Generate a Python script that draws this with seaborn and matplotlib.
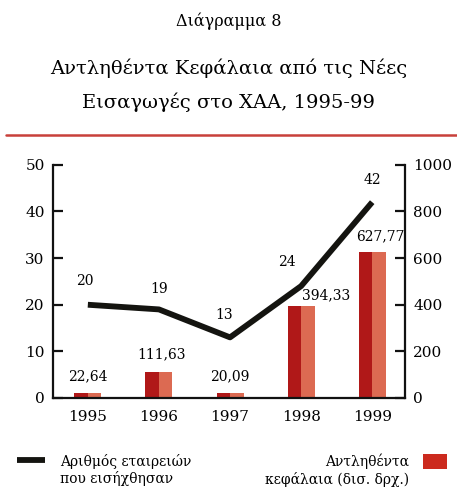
import matplotlib
matplotlib.use("Agg")
import matplotlib.pyplot as plt
from matplotlib.patches import Rectangle
from matplotlib.lines import Line2D
import seaborn as sns
import pandas as pd

# Data
years = ["1995", "1996", "1997", "1998", "1999"]
companies = [20, 19, 13, 24, 42]              # number of listed companies (left axis)
capital = [22.64, 111.63, 20.09, 394.33, 627.77]  # capital raised, bn drachmas (right axis)
capital_labels = ["22,64", "111,63", "20,09", "394,33", "627,77"]

title_lines = ["Διάγραμμα 8",
               "Αντληθέντα Κεφάλαια από τις Νέες",
               "Εισαγωγές στο ΧΑΑ, 1995-99"]
legend_line = "Αριθμός εταιρειών\nπου εισήχθησαν"
legend_bar = "Αντληθέντα\nκεφάλαια (δισ. δρχ.)"

sns.set_theme(style="white")
plt.rcParams["font.family"] = ["DejaVu Serif"]
plt.rcParams["text.color"] = "black"
plt.rcParams["xtick.color"] = "black"
plt.rcParams["ytick.color"] = "black"

df = pd.DataFrame({"year": years, "companies": companies, "capital": capital})

fig = plt.figure(figsize=(4.57, 4.96), dpi=100)
ax = fig.add_axes([0.116, 0.1976, 0.770, 0.470])
ax2 = ax.twinx()

BAR_LIGHT = "#dc6a52"
BAR_DARK = "#b01818"
LINE_COL = "#141410"

# bars on the right axis
sns.barplot(data=df, x="year", y="capital", ax=ax2, color=BAR_LIGHT,
            width=0.38, saturation=1, edgecolor="none")
for p in list(ax2.patches):
    ax2.add_patch(Rectangle((p.get_x(), p.get_y()), p.get_width() / 2, p.get_height(),
                            facecolor=BAR_DARK, edgecolor="none", zorder=p.get_zorder() + 0.1))

# line on the left axis
sns.lineplot(data=df, x="year", y="companies", ax=ax, color=LINE_COL,
             linewidth=4.2, sort=False, solid_capstyle="butt")
ax.set_zorder(ax2.get_zorder() + 1)
ax.patch.set_visible(False)

ax.set_ylim(0, 50)
ax2.set_ylim(0, 1000)
ax.set_xlim(-0.49, 4.46)
ax.set_yticks([0, 10, 20, 30, 40, 50])
ax2.set_yticks([0, 200, 400, 600, 800, 1000])
ax.set_xlabel("")
ax.set_ylabel("")
ax2.set_xlabel("")
ax2.set_ylabel("")

for a in (ax, ax2):
    a.spines["top"].set_visible(False)
    for s in ("left", "right", "bottom"):
        a.spines[s].set_color("#111111")
        a.spines[s].set_linewidth(1.6)
ax.spines["right"].set_visible(False)
ax2.spines["left"].set_visible(False)
ax2.spines["bottom"].set_visible(False)

ax.tick_params(axis="y", direction="in", length=7, width=1.6, color="#111111",
               labelsize=11, pad=6, left=True, labelcolor="black")
ax2.tick_params(axis="y", direction="in", length=7, width=1.6, color="#111111",
                labelsize=11, pad=6, right=True, labelcolor="black")
ax.tick_params(axis="x", length=0, labelsize=11, pad=9, labelcolor="black")

# value labels for the line
line_offsets = [(-2, 12), (0, 10), (-4, 11), (-10, 12), (0, 11)]
for i, (v, off) in enumerate(zip(companies, line_offsets)):
    ax.annotate(str(v), (i, v), xytext=off, textcoords="offset points",
                ha="center", va="bottom", fontsize=10)

# value labels for the bars
bar_offsets = [(0, 7), (2, 8), (0, 7), (18, 3), (6, 6)]
for i, (v, lab, off) in enumerate(zip(capital, capital_labels, bar_offsets)):
    ax2.annotate(lab, (i, v), xytext=off, textcoords="offset points",
                 ha="center", va="bottom", fontsize=10)

# titles
fig.text(0.5, 0.958, title_lines[0], ha="center", va="center", fontsize=11.5)
fig.text(0.5, 0.862, title_lines[1], ha="center", va="center", fontsize=14)
fig.text(0.5, 0.793, title_lines[2], ha="center", va="center", fontsize=14)
fig.add_artist(Line2D([0.013, 1.0], [0.728, 0.728], transform=fig.transFigure,
                      color="#c8403a", linewidth=1.8))

# legend
fig.add_artist(Line2D([0.037, 0.098], [0.073, 0.073], transform=fig.transFigure,
                      color=LINE_COL, linewidth=4.2, solid_capstyle="butt"))
fig.text(0.131, 0.052, legend_line, ha="left", va="center", fontsize=10,
         linespacing=1.2)
fig.add_artist(Rectangle((0.926, 0.054), 0.052, 0.030, transform=fig.transFigure,
                         facecolor="#cc2a1e", edgecolor="none"))
fig.text(0.895, 0.052, legend_bar, ha="right", va="center", fontsize=10,
         linespacing=1.2, multialignment="right")

fig.savefig("out.png", dpi=100)
